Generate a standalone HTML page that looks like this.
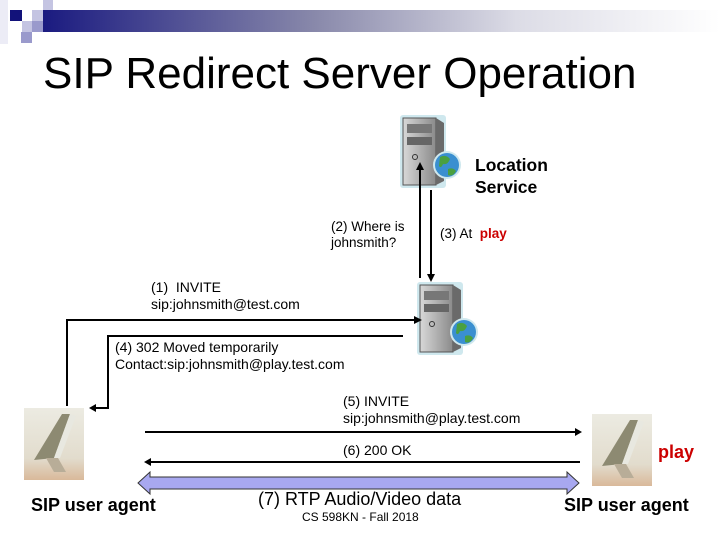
<!DOCTYPE html>
<html><head><meta charset="utf-8"><style>
body{margin:0;width:720px;height:540px;background:#fff;position:relative;overflow:hidden;font-family:"Liberation Sans",sans-serif}
.t{position:absolute;white-space:nowrap;color:#000}
</style></head><body>
<svg width="720" height="540" style="position:absolute;left:0;top:0">
<defs>
<linearGradient id="g" x1="0" x2="1"><stop offset="0" stop-color="#1a1a80"/><stop offset="0.4" stop-color="#8888aa"/><stop offset="0.7" stop-color="#dcdce6"/><stop offset="1" stop-color="#ffffff"/></linearGradient>
<linearGradient id="srv" x1="0" x2="1"><stop offset="0" stop-color="#d8d8d8"/><stop offset="1" stop-color="#8a8a8a"/></linearGradient>
<linearGradient id="pc" x1="0" y1="0" x2="0" y2="1"><stop offset="0" stop-color="#ecebe2"/><stop offset="0.7" stop-color="#e2dccd"/><stop offset="1" stop-color="#d9b99a"/></linearGradient>
<g id="server">
<rect x="0" y="0" width="46" height="73" fill="#cfe8ee" rx="3"/>
<rect x="3" y="3" width="33" height="67" fill="url(#srv)" stroke="#555"/>
<polygon points="36,3 44,8 44,66 36,70" fill="#6a6a6a"/>
<rect x="7" y="9" width="25" height="9" fill="#777"/>
<rect x="7" y="22" width="25" height="8" fill="#666"/>
<circle cx="15" cy="42" r="2.5" fill="none" stroke="#333"/>
<circle cx="47" cy="50" r="14" fill="#cfe8ee"/>
<circle cx="47" cy="50" r="12" fill="#3a8fd0"/>
<path d="M40 42 q6 -3 10 2 q-2 6 -7 5 q-2 5 -4 2z M48 54 q5 -2 8 2 q-3 6 -8 4z" fill="#4aa040"/>
</g>
<g id="pcimg">
<rect width="60" height="72" fill="url(#pc)"/>
<polygon points="38,6 46,6 30,50 10,52" fill="#8d8a72"/>
<polygon points="46,6 52,8 36,50 30,50" fill="#e8e8e0"/>
<polygon points="22,50 34,50 42,64 30,64" fill="#b8ad98"/>
</g>
</defs>
<rect x="42" y="10" width="678" height="22" fill="url(#g)"/>
<rect x="0" y="0" width="8" height="44" fill="#ececf6"/>
<rect x="10" y="10" width="12" height="11" fill="#12127a"/>
<rect x="32" y="10" width="11" height="11" fill="#c4c4e2"/>
<rect x="43" y="0" width="10" height="10" fill="#c4c4e2"/>
<rect x="32" y="21" width="11" height="11" fill="#9a9acc"/>
<rect x="22" y="21" width="10" height="11" fill="#c4c4e2"/>
<rect x="21" y="32" width="11" height="11" fill="#9a9acc"/>
<use href="#server" x="400" y="115"/>
<use href="#server" x="417" y="282"/>
<use href="#pcimg" x="24" y="408"/>
<use href="#pcimg" x="592" y="414"/>
<g stroke="#000" stroke-width="2" fill="none">
<path d="M420 278 V168"/><path d="M431 190 V276"/>
<path d="M67 406 V320 H416"/>
<path d="M403 336 H108 V408 H94"/>
<path d="M145 432 H576"/>
<path d="M580 462 H150"/>
</g>
<g fill="#000">
<polygon points="420,162 416,170 424,170"/>
<polygon points="431,282 427,274 435,274"/>
<polygon points="422,320 414,316 414,324"/>
<polygon points="89,408 96,404 96,412"/>
<polygon points="582,432 575,428 575,436"/>
<polygon points="144,462 151,458 151,466"/>
</g>
<polygon points="138,483 150,472 150,477 567,477 567,472 579,483 567,494 567,489 150,489 150,494" fill="#a8a8f0" stroke="#333" stroke-width="1"/>
</svg>
<div class="t" style="left:43px;top:49px;font-size:44px">SIP Redirect Server Operation</div>
<div class="t" style="left:475px;top:154px;font-size:17.5px;font-weight:bold;line-height:22px">Location<br>Service</div>
<div class="t" style="left:331px;top:219px;font-size:13.5px;line-height:16px">(2) Where is<br>johnsmith?</div>
<div class="t" style="left:440px;top:226px;font-size:13.5px">(3) At&nbsp; <b style="color:#cc0000">play</b></div>
<div class="t" style="left:151px;top:279px;font-size:14px;line-height:17px">(1)&nbsp; INVITE<br>sip:johnsmith@test.com</div>
<div class="t" style="left:115px;top:339px;font-size:14px;line-height:17px">(4) 302 Moved temporarily<br>Contact:sip:johnsmith@play.test.com</div>
<div class="t" style="left:343px;top:393px;font-size:14px;line-height:17px">(5) INVITE<br>sip:johnsmith@play.test.com</div>
<div class="t" style="left:343px;top:442px;font-size:14px">(6) 200 OK</div>
<div class="t" style="left:658px;top:442px;font-size:18px;font-weight:bold;color:#cc0000">play</div>
<div class="t" style="left:31px;top:495px;font-size:18px;font-weight:bold">SIP user agent</div>
<div class="t" style="left:564px;top:495px;font-size:18px;font-weight:bold">SIP user agent</div>
<div class="t" style="left:258px;top:489px;font-size:18px">(7) RTP Audio/Video data</div>
<div class="t" style="left:302px;top:510px;font-size:12px">CS 598KN - Fall 2018</div>
</body></html>
